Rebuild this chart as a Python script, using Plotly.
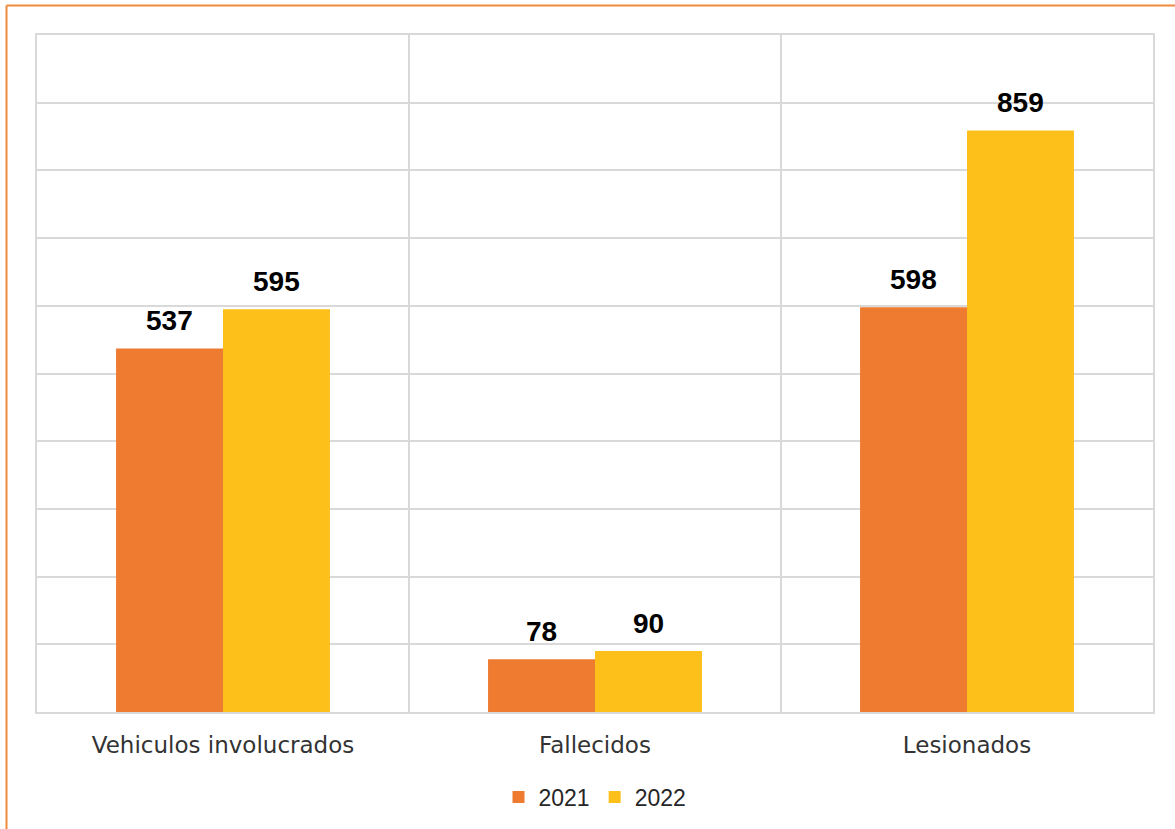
import plotly.graph_objects as go

categories = ["Vehiculos involucrados", "Fallecidos", "Lesionados"]
series_names = ["2021", "2022"]
values_2021 = [537, 78, 598]
values_2022 = [595, 90, 859]

FONT = "DejaVu Sans"
LBL_FONT = "Liberation Sans"
W, H = 1175, 829
ML, MR, MT, MB = 37, 22, 35, 116
BARGAP = 0.425

fig = go.Figure()
fig.add_trace(go.Bar(
    x=categories, y=values_2021, name=series_names[0],
    marker=dict(color="#EE7B30", line=dict(width=0)),
))
fig.add_trace(go.Bar(
    x=categories, y=values_2022, name=series_names[1],
    marker=dict(color="#FDC01A", line=dict(width=0)),
))

# data labels as annotations above each bar
plot_w = W - ML - MR
bar_w = plot_w / len(categories) * (1 - BARGAP) / 2
for vals, sign in ((values_2021, -1), (values_2022, 1)):
    for c, v in zip(categories, vals):
        fig.add_annotation(
            x=c, y=v, text=f"<b>{v}</b>", showarrow=False,
            xanchor="center", yanchor="bottom",
            xshift=sign * bar_w / 2, yshift=10,
            font=dict(family=LBL_FONT, size=28, color="#000000"),
        )

fig.update_layout(
    width=W, height=H,
    margin=dict(l=ML, r=MR, t=MT, b=MB),
    paper_bgcolor="white", plot_bgcolor="white",
    barmode="group", bargap=BARGAP, bargroupgap=0,
    font=dict(family=FONT, color="#404040"),
    legend=dict(orientation="h", x=0.5, xanchor="center", y=-0.124, yanchor="middle",
                font=dict(family=LBL_FONT, size=23, color="#262626"), itemwidth=30,
                traceorder="normal"),
    showlegend=True,
)
fig.update_xaxes(
    tickson="boundaries", showgrid=True, gridcolor="#D9D9D9", gridwidth=1.5,
    showline=True, mirror=True, linecolor="#D9D9D9", linewidth=1.5,
    ticks="", tickfont=dict(family=FONT, size=23, color="#333333"),
    ticklabelstandoff=12,
)
fig.update_yaxes(
    range=[0, 1000], dtick=100, showgrid=True, gridcolor="#D9D9D9", gridwidth=1.5,
    showticklabels=False, zeroline=False,
    showline=True, mirror=True, linecolor="#D9D9D9", linewidth=1.5,
)

# outer chart border (orange), left and top edges
bx = (6.5 - ML) / plot_w
by = 1 + (MT - 5.5) / (H - MT - MB)
fig.add_shape(type="line", xref="paper", yref="paper",
              x0=bx, x1=bx, y0=-0.2, y1=by,
              line=dict(color="#F08A3C", width=2))
fig.add_shape(type="line", xref="paper", yref="paper",
              x0=bx, x1=1.05, y0=by, y1=by,
              line=dict(color="#F08A3C", width=2))

fig.write_html("out.html", config={"displayModeBar": False},
               post_script="document.body.style.margin='0px';")
